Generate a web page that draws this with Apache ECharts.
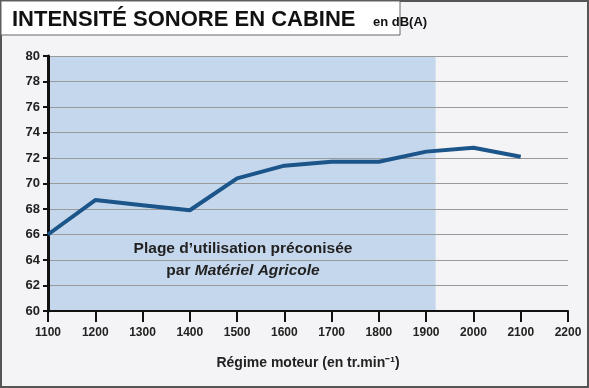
<!DOCTYPE html>
<html><head><meta charset="utf-8">
<script src="https://cdn.jsdelivr.net/npm/echarts@6/dist/echarts.min.js"></script>
<style>html,body{margin:0;padding:0;background:#f4f3f6;}#c{width:589px;height:388px;}</style>
</head><body><div id="c"></div>
<script>
const regimes = [1100,1200,1300,1400,1500,1600,1700,1800,1900,2000,2100];
const intensite = [66.0,68.7,68.3,67.9,70.4,71.4,71.7,71.7,72.5,72.8,72.1];
const plageFin = 1920;
const titre = 'INTENSITÉ SONORE EN CABINE';
const unite = 'en dB(A)';
const axeX = 'Régime moteur (en tr.min⁻¹)';

const chart = echarts.init(document.getElementById('c'), null, {renderer:'canvas'});
const F = '"Liberation Sans",Arial,sans-serif';
chart.setOption({
  backgroundColor:'#f4f3f6',
  animation:false,
  grid:{left:48,right:21,top:56,bottom:77,containLabel:false},
  graphic:[
    {type:'rect',shape:{x:1,y:1,width:587,height:386},style:{fill:'none',stroke:'#555',lineWidth:2},z:-10,silent:true},
    {type:'rect',shape:{x:1,y:1,width:399,height:34},style:{fill:'#ffffff',stroke:'#666',lineWidth:1},z:-5},
    {type:'text',left:12,top:9,style:{text:titre,fontFamily:F,fontWeight:'bold',fontSize:22,fill:'#111'}},
    {type:'text',left:373,top:16,style:{text:unite,fontFamily:F,fontWeight:'bold',fontSize:13,fill:'#111'}},
    {type:'text',style:{x:243,y:238,align:'center',text:"{b|Plage d\u2019utilisation préconisée}\n{b|par }{i|Matériel Agricole}",
      rich:{b:{fontFamily:F,fontWeight:'bold',fontSize:15.5,fill:'#222',lineHeight:22},i:{fontFamily:F,fontWeight:'bold',fontStyle:'italic',fontSize:15.5,fill:'#222',lineHeight:22}}}}
  ],
  xAxis:{type:'value',min:1100,max:2200,interval:100,
    name:axeX,nameLocation:'middle',nameGap:45,nameTextStyle:{fontFamily:F,fontWeight:'bold',fontSize:14,color:'#222'},
    axisLine:{lineStyle:{color:'#111',width:2}},
    axisTick:{show:true,length:11,lineStyle:{color:'#111',width:2}},
    axisLabel:{margin:16,color:'#222',fontFamily:F,fontWeight:'bold',fontSize:12,formatter:v=>String(v)},
    splitLine:{show:false}},
  yAxis:{type:'value',min:60,max:80,interval:2,
    axisLine:{show:true,lineStyle:{color:'#111',width:3}},
    axisTick:{show:true,length:5,lineStyle:{color:'#111',width:2}},
    axisLabel:{margin:8,color:'#222',fontFamily:F,fontWeight:'bold',fontSize:13,formatter:v=>String(v)},
    splitLine:{lineStyle:{color:'#9a9a9a',width:1}}},
  series:[{type:'line',data:regimes.map((r,i)=>[r,intensite[i]]),
    symbol:'none',lineStyle:{color:'#1c5589',width:4},z:5,
    markArea:{silent:true,itemStyle:{color:'#c5d7ec'},z:-1,
      data:[[{xAxis:1100,yAxis:60},{xAxis:plageFin,yAxis:80}]]}}]
});
</script></body></html>
